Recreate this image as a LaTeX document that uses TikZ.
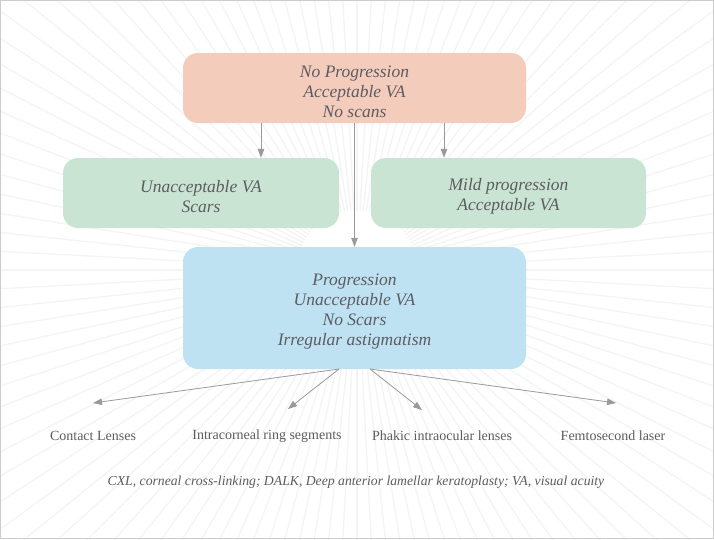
\documentclass[tikz,border=0pt]{standalone}
\usepackage{fontspec}
\setmainfont{Liberation Serif}
\usetikzlibrary{arrows.meta}
\definecolor{salmon}{HTML}{F4CCBC}
\definecolor{mint}{HTML}{C9E4D3}
\definecolor{sky}{HTML}{BFE2F3}
\definecolor{txt}{HTML}{5C5C62}
\definecolor{ray}{HTML}{F4F4F4}
\definecolor{arr}{HTML}{9A9A9A}
\newcommand{\topstrut}{\rule{0pt}{19pt}}
\tikzset{
  box/.style={rounded corners=15pt, inner sep=0pt, align=center, text=txt,
    font=\fontsize{17.5}{20}\selectfont\itshape},
  lbl/.style={text=txt, font=\fontsize{14}{15}\selectfont, inner sep=0pt},
  conn/.style={draw=arr, line width=0.8pt, -{Triangle[length=9pt,width=6.5pt]}}
}
\begin{document}
\begin{tikzpicture}[x=1pt,y=-1pt]
\useasboundingbox (0,0) rectangle (714,539);
\fill[white] (0,0) rectangle (714,539);
\begin{scope}
\clip (0,0) rectangle (714,539);
\foreach \a in {0,3,...,357} {
  \draw[ray, line width=1.3pt] (357,270) ++(\a:60) -- ++(\a:700);
}
\end{scope}
\draw[draw=black!20, line width=1.2pt] (0.6,0.6) rectangle (713.4,538.4);

\node[box, fill=salmon, minimum width=343pt, minimum height=70pt] (top) at (354.5,88)
  {\topstrut No Progression\\Acceptable VA\\No scans};
\node[box, fill=mint, minimum width=276pt, minimum height=70pt] (left) at (201,193)
  {\topstrut Unacceptable VA\\Scars};
\node[box, fill=mint, minimum width=275pt, minimum height=70pt] (right) at (508.5,193)
  {\topstrut Mild progression\\Acceptable VA};
\node[box, fill=sky, minimum width=343pt, minimum height=122pt] (prog) at (354.5,308)
  {\topstrut Progression\\Unacceptable VA\\No Scars\\Irregular astigmatism};

\coordinate (xl) at (261,0);
\coordinate (xr) at (444,0);
\draw[conn] (top.south -| xl) -- (left.north -| xl);
\draw[conn] (top.south -| xr) -- (right.north -| xr);
\draw[conn] (top.south) -- (prog.north);

\node[lbl] (cl) at (93,436) {Contact Lenses};
\node[lbl] (irs) at (267,436) {Intracorneal ring segments};
\node[lbl] (pil) at (442,436) {Phakic intraocular lenses};
\node[lbl] (fl) at (613,436) {Femtosecond laser};

\coordinate (sl) at (339,369);
\coordinate (sr) at (370,369);
\coordinate (e1) at (93,403);
\coordinate (e2) at (288,409);
\coordinate (e3) at (422,410);
\coordinate (e4) at (616,403);
\draw[conn] (sl) -- (e1);
\draw[conn] (sl) -- (e2);
\draw[conn] (sr) -- (e3);
\draw[conn] (sr) -- (e4);

\node[lbl, font=\fontsize{13.7}{15}\selectfont\itshape] (cap) at (356,482)
  {CXL, corneal cross-linking; DALK, Deep anterior lamellar keratoplasty; VA, visual acuity};
\end{tikzpicture}
\end{document}
